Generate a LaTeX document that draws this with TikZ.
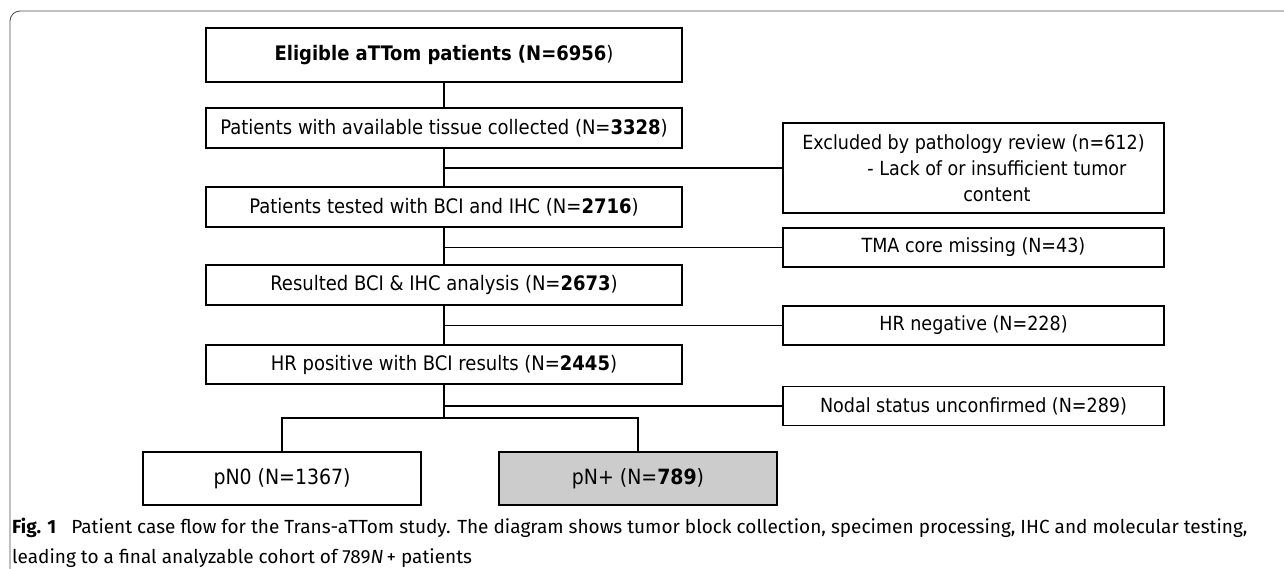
\documentclass[tikz,border=0pt]{standalone}
\usepackage{fontspec}
\setmainfont{DejaVu Sans Condensed}
\newfontfamily\capfont{Fira Sans}
\begin{document}
\begin{tikzpicture}[x=1pt,y=-1pt,
  stage/.style={draw, line width=1.4pt, minimum width=476pt, minimum height=40pt, inner sep=0pt, font=\fontsize{20}{26}\selectfont},
  drop/.style={draw, line width=1.4pt, minimum width=381pt, minimum height=39pt, inner sep=0pt, font=\fontsize{19.5}{26}\selectfont},
  arm/.style={draw, line width=1.4pt, minimum width=278pt, minimum height=53pt, inner sep=0pt, font=\fontsize{21}{26}\selectfont},
  link/.style={line width=1.2pt}]
\useasboundingbox (0,0) rectangle (1284,569);
\draw[rounded corners=10pt, line width=0.8pt, black!70] (10,569) -- (10,11) -- (1284,11);
% main column
\node[stage, minimum height=54pt] (s0) at (444,55) {\textbf{Eligible aTTom patients (N=6956})};
\node[stage] (s1) at (444,128) {Patients with available tissue collected (N=\textbf{3328})};
\node[stage] (s2) at (444,207) {Patients tested with BCI and IHC (N=\textbf{2716})};
\node[stage] (s3) at (444,285) {Resulted BCI \& IHC analysis (N=\textbf{2673})};
\node[stage, minimum height=39pt] (s4) at (444,364.5) {HR positive with BCI results (N=\textbf{2445})};
% exclusions
\node[drop, minimum height=90pt, align=center] (x1) at (973.5,168) {Excluded by pathology review (n=612)\\\hspace*{2.4em}- Lack of or insufficient tumor\\\hspace*{2.4em}content};
\node[drop] (x2) at (973.5,247.5) {TMA core missing (N=43)};
\node[drop] (x3) at (973.5,325.5) {HR negative (N=228)};
\node[drop] (x4) at (973.5,406) {Nodal status unconfirmed (N=289)};
% final arms
\node[arm] (pn0) at (282,478.5) {pN0 (N=1367)};
\node[arm, fill=black!20] (pnp) at (638,478.5) {pN+ (N=\textbf{789})};
\coordinate (split) at (444,418);
\draw[link](s0) -- (s1);
\draw[link](s1) -- (s2);
\draw[link](s2) -- (s3);
\draw[link](s3) -- (s4);
\draw[link](s4) -- (split);
\draw[link](x1.west) -- (x1.west -| s1.south);
\draw[link](x2.west) -- (x2.west -| s2.south);
\draw[link](x3.west) -- (x3.west -| s3.south);
\draw[link](x4.west) -- (x4.west -| s4.south);
\draw[link](split) -| (pn0.north);
\draw[link](split) -| (pnp.north);
% caption
\node[anchor=base west, inner sep=0pt, font=\capfont\fontsize{19}{22}\selectfont] (cap1) at (12,533) {\textbf{Fig. 1}\hspace{0.8em}Patient case flow for the Trans-aTTom study. The diagram shows tumor block collection, specimen processing, IHC and molecular testing,};
\node[anchor=base west, inner sep=0pt, font=\capfont\fontsize{19}{22}\selectfont] (cap2) at (12,563) {leading to a final analyzable cohort of 789\textit{N}\,+ patients};
\end{tikzpicture}
\end{document}
